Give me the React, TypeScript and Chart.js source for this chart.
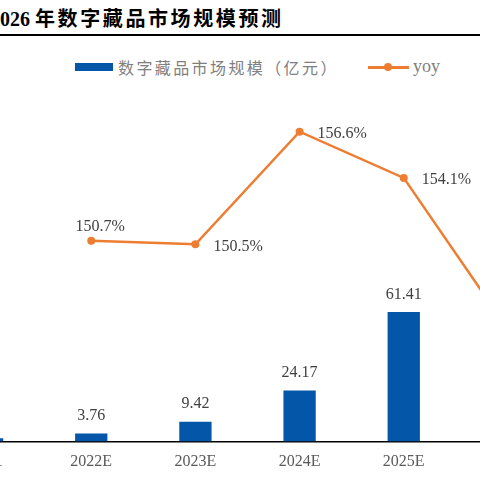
import React, { useEffect, useRef } from "react";
import { Chart, registerables } from "chart.js";

Chart.register(...registerables);

const categories = ["2021", "2022E", "2023E", "2024E", "2025E", "2026E"];
const marketSize = [1.5, 3.76, 9.42, 24.17, 61.41, 151.0];
const yoyGrowth = [null, 150.7, 150.5, 156.6, 154.1, 145.9];

const BAR_COLOR = "#0457A8";
const LINE_COLOR = "#ED7D31";
const SERIF = "'Liberation Serif', 'Times New Roman', serif";

const labelPlugin = {
  id: "valueLabels",
  afterDatasetsDraw(chart: any) {
    const ctx = chart.ctx;
    ctx.save();
    ctx.font = `16px ${SERIF}`;
    ctx.fillStyle = "#404040";
    const barMeta = chart.getDatasetMeta(0);
    barMeta.data.forEach((el: any, i: number) => {
      const v = marketSize[i];
      ctx.textAlign = "center";
      ctx.textBaseline = "middle";
      ctx.fillText(String(v), el.x, el.y - 17.5);
    });
    const lineMeta = chart.getDatasetMeta(1);
    lineMeta.data.forEach((el: any, i: number) => {
      const v = yoyGrowth[i];
      if (v == null) return;
      const txt = v.toFixed(1) + "%";
      ctx.textBaseline = "middle";
      if (i === 1) {
        ctx.textAlign = "center";
        ctx.fillText(txt, el.x + 9, el.y - 14);
      } else {
        ctx.textAlign = "left";
        ctx.fillText(txt, el.x + 18, el.y + 2);
      }
    });
    ctx.restore();
  },
};

function ChartCanvas() {
  const ref = useRef<HTMLCanvasElement>(null);
  useEffect(() => {
    if (!ref.current) return;
    const chart = new Chart(ref.current, {
      type: "bar",
      data: {
        labels: categories,
        datasets: [
          {
            type: "bar",
            label: "数字藏品市场规模（亿元）",
            data: marketSize,
            backgroundColor: BAR_COLOR,
            barPercentage: 0.31,
            categoryPercentage: 1,
            yAxisID: "y",
            order: 2,
          },
          {
            type: "line",
            label: "yoy",
            data: yoyGrowth as any,
            borderColor: LINE_COLOR,
            backgroundColor: LINE_COLOR,
            borderWidth: 2.5,
            pointRadius: 4,
            pointBackgroundColor: LINE_COLOR,
            pointBorderWidth: 0,
            tension: 0,
            spanGaps: false,
            yAxisID: "y1",
            order: 1,
          } as any,
        ],
      },
      options: {
        animation: false,
        responsive: false,
        maintainAspectRatio: false,
        layout: { padding: { left: 10, right: 10, top: 10, bottom: 0 } },
        plugins: {
          legend: { display: false },
          tooltip: { enabled: false },
          title: { display: false },
        },
        scales: {
          x: {
            grid: { display: false, drawTicks: false },
            border: { display: true, color: "#000000", width: 1.5 },
            ticks: {
              color: "#595959",
              font: { family: SERIF, size: 16 },
              padding: 11,
              maxRotation: 0,
              autoSkip: false,
            },
            afterFit: (scale: any) => {
              scale.height = 38.5;
            },
          },
          y: {
            display: false,
            min: 0,
            max: 166.8,
          },
          y1: {
            display: false,
            position: "right",
            min: 139.82,
            max: 158.86,
          },
        },
      },
      plugins: [labelPlugin],
    });
    return () => chart.destroy();
  }, []);
  return (
    <canvas
      ref={ref}
      width={645}
      height={400}
      style={{ position: "absolute", left: -75, top: 80, width: 645, height: 400 }}
    />
  );
}

export default function App() {
  return (
    <div
      style={{
        position: "fixed",
        left: 0,
        top: 0,
        width: 480,
        height: 480,
        overflow: "hidden",
        background: "#ffffff",
      }}
    >
      <div
        style={{
          position: "absolute",
          left: -10,
          top: 6,
          whiteSpace: "nowrap",
          fontSize: 20,
          lineHeight: "24px",
          fontWeight: "bold",
          color: "#000",
          fontFamily: SERIF,
        }}
      >
        <span>2026</span>
        <span
          style={{
            fontFamily: "'Noto Sans CJK SC', sans-serif",
            letterSpacing: 2.6,
            marginLeft: 5,
          }}
        >
          年数字藏品市场规模预测
        </span>
      </div>
      <div
        style={{
          position: "absolute",
          left: 0,
          top: 33.5,
          width: 480,
          height: 2,
          background: "#000",
        }}
      />
      <div
        style={{
          position: "absolute",
          left: 75,
          top: 63,
          width: 38,
          height: 8,
          background: BAR_COLOR,
        }}
      />
      <div
        style={{
          position: "absolute",
          left: 118,
          top: 56,
          whiteSpace: "nowrap",
          fontSize: 16,
          lineHeight: "22px",
          color: "#808080",
          letterSpacing: 2.4,
          fontFamily: "'Noto Sans CJK SC', sans-serif",
        }}
      >
        数字藏品市场规模（亿元）
      </div>
      <div
        style={{
          position: "absolute",
          left: 368,
          top: 66,
          width: 41,
          height: 2.5,
          background: LINE_COLOR,
        }}
      />
      <div
        style={{
          position: "absolute",
          left: 384,
          top: 63,
          width: 8,
          height: 8,
          borderRadius: 4,
          background: LINE_COLOR,
        }}
      />
      <div
        style={{
          position: "absolute",
          left: 413,
          top: 55,
          whiteSpace: "nowrap",
          fontSize: 18,
          lineHeight: "22px",
          color: "#7f7f7f",
          fontFamily: SERIF,
        }}
      >
        yoy
      </div>
      <ChartCanvas />
    </div>
  );
}
